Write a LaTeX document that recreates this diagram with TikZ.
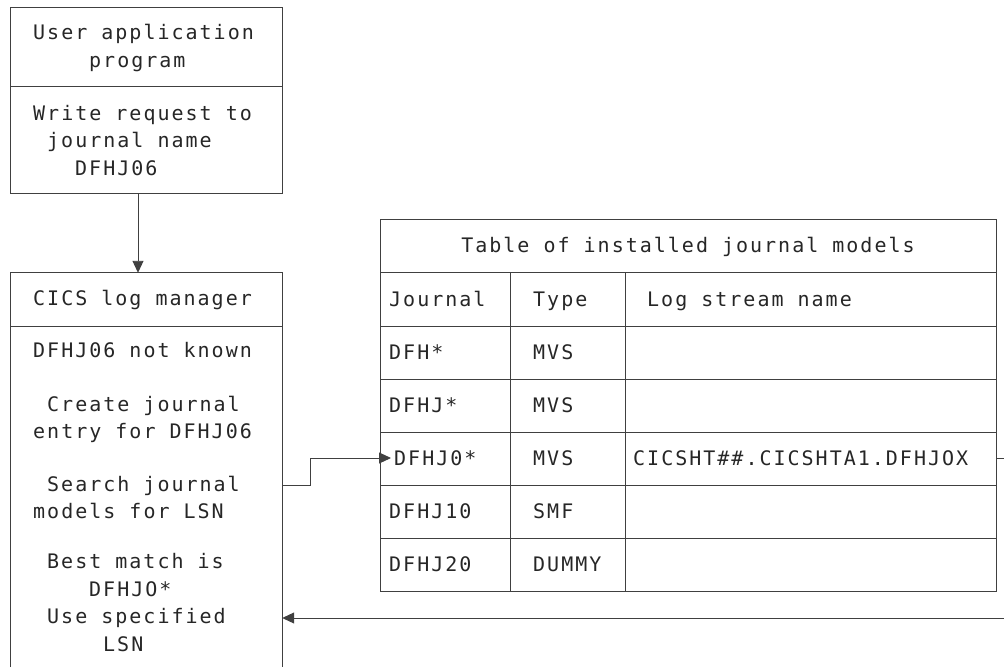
\documentclass[tikz,border=0pt]{standalone}
\usepackage{fontspec}
\newfontfamily\ibm[LetterSpace=10]{DejaVu Sans Mono}
\usetikzlibrary{arrows.meta}
\newlength\chw
\setlength\chw{14pt}
\newcommand\ind[1]{\hspace*{#1\chw}}
\begin{document}
\begin{tikzpicture}[x=1pt,y=-1pt,
  ln/.style={draw=black!75, line width=0.9pt},
  txt/.style={font=\ibm\fontsize{20}{27.5}\selectfont, text=black!85, inner sep=0pt, align=left, anchor=base west},
  ctxt/.style={txt, anchor=base},
  tip/.style={-{Triangle[length=12pt,width=11pt]}}]
\useasboundingbox (0,0) rectangle (1004,667);

% top box
\node[ln, minimum width=271.3pt, minimum height=186pt, inner sep=0pt] (app) at (146.35,100) {};
\draw[ln] (app.west |- 0,86) -- (app.east |- 0,86);
\node[txt] (appA) at (33,67) {User application\\\ind{4}program};
\node[txt] (appB) at (33,175) {Write request to\\\ind{1}journal name\\\ind{3}DFHJ06};

% log manager box (open at the page bottom)
\node[inner sep=0pt, minimum width=271.3pt, minimum height=394pt] (lm) at (146.35,470) {};
\draw[ln] (lm.south west) -- (lm.north west) -- (lm.north east) -- (lm.south east);
\draw[ln] (lm.west |- 0,326) -- (lm.east |- 0,326);
\node[txt] (lmA) at (33,305) {CICS log manager};
\node[txt] (lmB) at (33,357) {DFHJ06 not known};
\node[txt] (lmC) at (33,438.5) {\ind{1}Create journal\\entry for DFHJ06};
\node[txt] (lmD) at (33,518.5) {\ind{1}Search journal\\models for LSN};
\node[txt] (lmE) at (33,651) {\ind{1}Best match is\\\ind{4}DFHJO*\\\ind{1}Use specified\\\ind{5}LSN};

\draw[ln, tip] (app.south -| 138,0) -- (lm.north -| 138,0);

% table
\node[ln, minimum width=616pt, minimum height=372pt, inner sep=0pt] (tbl) at (688.5,405) {};
\foreach \yy in {272,326,379,432,485,538}
  \draw[ln] (tbl.west |- 0,\yy) -- (tbl.east |- 0,\yy);
\draw[ln] (510,272) -- (tbl.south -| 510,0);
\draw[ln] (625,272) -- (tbl.south -| 625,0);
\node[ctxt] (title) at (688,252) {Table of installed journal models};
\node[txt] (hJ) at (389,306) {Journal};
\node[txt] (hT) at (533,306) {Type};
\node[txt] (hL) at (647,306) {Log stream name};
\node[txt] (r1a) at (389,359) {DFH*};
\node[txt] (r1b) at (533,359) {MVS};
\node[txt] (r2a) at (389,412) {DFHJ*};
\node[txt] (r2b) at (533,412) {MVS};
\node[txt] (r3a) at (394,465) {DFHJ0*};
\node[txt] (r3b) at (533,465) {MVS};
\node[txt] (r3c) at (633,465) {CICSHT\#\#.CICSHTA1.DFHJOX};
\node[txt] (r4a) at (389,518) {DFHJ10};
\node[txt] (r4b) at (533,518) {SMF};
\node[txt] (r5a) at (389,571) {DFHJ20};
\node[txt] (r5b) at (533,571) {DUMMY};

% connectors
\coordinate (out) at (1004,458);
\coordinate (back) at (1004,618);
\coordinate (tipA) at (391,458);
\draw[ln, tip] (lm.east |- 0,485) -- (310,485) -- (310,458) -- (tipA);
\draw[ln] (tbl.east |- out) -- (out);
\draw[ln, tip] (back) -- (lm.east |- back);
\end{tikzpicture}
\end{document}
